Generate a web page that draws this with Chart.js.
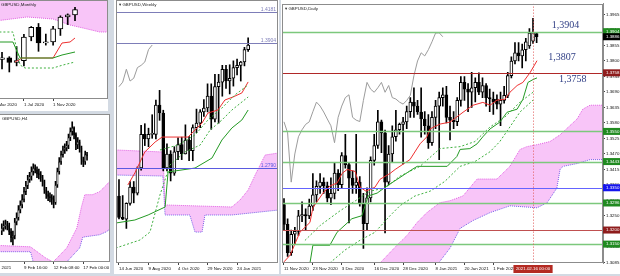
<!DOCTYPE html>
<html><head><meta charset="utf-8">
<script src="https://cdn.jsdelivr.net/npm/chart.js@4.4.1/dist/chart.umd.min.js"></script>
<style>
html,body{margin:0;padding:0;width:620px;height:276px;overflow:hidden;background:#d3dae3;}
body{position:relative;}
.p{position:absolute;}
canvas{display:block;}
</style></head><body>
<div class="p" style="left:-12px;top:0"><canvas id="cM" width="120" height="111"></canvas></div>
<div class="p" style="left:-12px;top:114px"><canvas id="cH" width="122" height="159"></canvas></div>
<div class="p" style="left:114px;top:0"><canvas id="cW" width="165" height="274"></canvas></div>
<div class="p" style="left:281px;top:0"><canvas id="cD" width="360" height="274"></canvas></div>
<script>
// ---------------- DATA ----------------
// Daily GBPUSD (11 Nov 2020 .. 17 Feb 2021)
const dailyOpen  = [1.3290,1.3220,1.3120,1.3185,1.3195,1.3250,1.3255,1.3250,1.3285,1.3325,1.3355,1.3370,1.3357,1.3313,1.3330,1.3402,1.3361,1.3464,1.3432,1.3384,1.3358,1.3370,1.3293,1.3223,1.3314,1.3447,1.3500,1.3584,1.3545,1.3370,1.3470,1.3531,1.3556,1.3575,1.3584,1.3620,1.3654,1.3640,1.3619,1.3594,1.3570,1.3510,1.3600,1.3640,1.3670,1.3680,1.3600,1.3590,1.3585,1.3660,1.3724,1.3700,1.3689,1.3705,1.3724,1.3689,1.3713,1.3670,1.3665,1.3665,1.3647,1.3660,1.3678,1.3748,1.3800,1.3829,1.3818,1.3840,1.3853,1.3870,1.3897];
const dailyHigh  = [1.3312,1.3240,1.3200,1.3210,1.3270,1.3300,1.3275,1.3310,1.3400,1.3375,1.3400,1.3385,1.3370,1.3385,1.3440,1.3415,1.3475,1.3540,1.3440,1.3410,1.3540,1.3390,1.3330,1.3350,1.3460,1.3540,1.3625,1.3590,1.3555,1.3500,1.3570,1.3625,1.3580,1.3600,1.3640,1.3670,1.3705,1.3660,1.3705,1.3620,1.3610,1.3620,1.3660,1.3690,1.3705,1.3710,1.3640,1.3620,1.3670,1.3745,1.3745,1.3720,1.3760,1.3740,1.3758,1.3740,1.3720,1.3700,1.3690,1.3680,1.3690,1.3710,1.3760,1.3815,1.3865,1.3865,1.3860,1.3880,1.3915,1.3951,1.3902];
const dailyLow   = [1.3200,1.3106,1.3110,1.3150,1.3180,1.3230,1.3200,1.3240,1.3270,1.3300,1.3330,1.3330,1.3300,1.3290,1.3310,1.3340,1.3350,1.3420,1.3225,1.3330,1.3330,1.3285,1.3135,1.3200,1.3300,1.3430,1.3490,1.3475,1.3190,1.3360,1.3440,1.3515,1.3540,1.3435,1.3560,1.3600,1.3600,1.3610,1.3530,1.3540,1.3490,1.3500,1.3560,1.3450,1.3640,1.3580,1.3520,1.3560,1.3570,1.3640,1.3660,1.3620,1.3635,1.3655,1.3680,1.3670,1.3640,1.3620,1.3610,1.3630,1.3570,1.3650,1.3670,1.3740,1.3790,1.3800,1.3775,1.3800,1.3845,1.3862,1.3865];
const dailyClose = [1.3220,1.3120,1.3185,1.3195,1.3250,1.3255,1.3250,1.3285,1.3325,1.3355,1.3370,1.3357,1.3313,1.3330,1.3402,1.3361,1.3464,1.3432,1.3384,1.3358,1.3370,1.3293,1.3223,1.3314,1.3447,1.3500,1.3584,1.3545,1.3370,1.3470,1.3531,1.3556,1.3575,1.3584,1.3620,1.3654,1.3640,1.3619,1.3594,1.3570,1.3510,1.3600,1.3640,1.3670,1.3680,1.3600,1.3590,1.3585,1.3660,1.3724,1.3700,1.3689,1.3705,1.3724,1.3689,1.3713,1.3670,1.3665,1.3654,1.3647,1.3660,1.3678,1.3748,1.3800,1.3829,1.3818,1.3840,1.3868,1.3899,1.3900,1.3886];
const dailyTickIdx = [0,8,16,25,33,42,50,58];
const dailyTickLabels = ["11 Nov 2020","23 Nov 2020","3 Dec 2020","16 Dec 2020","28 Dec 2020","8 Jan 2021","20 Jan 2021","1 Feb 2021"];
const dailyPriceTicks = [1.3965,1.3910,1.3855,1.3800,1.3745,1.3690,1.3635,1.3580,1.3525,1.3470,1.3415,1.3360,1.3305,1.3250,1.3195,1.3140,1.3085];
const dailyTenkan = [[0,1.3087],[1.7,1.3111],[4.4,1.3192],[7.2,1.3227],[8.0,1.3279],[10.8,1.3331],[12.7,1.3356],[14.7,1.3367],[16.1,1.3401],[17.5,1.3415],[19.7,1.3408],[21.1,1.3352],[22.7,1.3338],[25.2,1.3352],[26.6,1.3380],[29.4,1.3401],[30.8,1.3415],[34.9,1.3450],[37.7,1.3506],[39.6,1.3531],[40.5,1.3559],[43.2,1.3576],[46.0,1.3583],[49.6,1.3618],[52.4,1.3643],[55.1,1.3653],[57.1,1.3643],[59.0,1.3661],[61.2,1.3664],[62.6,1.3689],[64.6,1.3713],[66.2,1.3724],[68.2,1.3759],[70.1,1.3801]];
const dailyKijun = [[-0.6,1.3083],[7.2,1.3083],[8.0,1.3146],[12.7,1.3146],[14.7,1.3192],[18.8,1.3240],[21.6,1.3251],[23.3,1.3321],[25.8,1.3331],[28.5,1.3356],[35.5,1.3415],[36.9,1.3426],[45.2,1.3426],[47.9,1.3461],[48.8,1.3486],[51.5,1.3489],[53.5,1.3506],[55.1,1.3531],[57.1,1.3559],[59.8,1.3583],[61.8,1.3618],[64.6,1.3629],[66.2,1.3664],[67.6,1.3724],[69.0,1.3734],[70.1,1.3740]];
const dailyDashA = [[12.7,1.3083],[16.9,1.3129],[21.1,1.3164],[25.2,1.3192],[29.4,1.3251],[32.1,1.3286],[36.3,1.3321],[40.5,1.3338],[44.6,1.3373],[48.8,1.3426],[52.9,1.3443],[57.1,1.3478],[59.8,1.3514],[62.6,1.3566],[65.4,1.3619],[69.0,1.3661]];
const dailyDashB = [[5.8,1.3163],[10.0,1.3216],[15.5,1.3268],[19.7,1.3303],[23.8,1.3338],[28.0,1.3349],[32.1,1.3391],[37.7,1.3426],[43.2,1.3489],[48.8,1.3496],[52.9,1.3514],[57.1,1.3566],[61.2,1.3601],[65.4,1.3654],[69.0,1.3689]];
const dailyCloudUp = [[26.6,1.3083],[31.3,1.3146],[34.1,1.3181],[36.9,1.3227],[39.6,1.3262],[43.2,1.3297],[46.0,1.3304],[49.6,1.3321],[53.5,1.3381],[59.0,1.3381],[62.6,1.3426],[65.4,1.3486],[67.3,1.3496],[70.1,1.3503],[73.7,1.3514],[76.5,1.3538],[81.2,1.3594],[82.8,1.3629],[84.8,1.3643],[88.6,1.3643]];
const dailyCloudLo = [[26.6,1.3000],[40.0,1.3000],[42.4,1.3076],[46.0,1.3136],[48.8,1.3206],[52.4,1.3234],[57.1,1.3262],[62.6,1.3286],[70.1,1.3279],[72.9,1.3297],[75.6,1.3349],[76.5,1.3416],[77.3,1.3426],[81.2,1.3436],[84.8,1.3450],[88.6,1.3450]];
const dailyLevels = [1.3904,1.3758,1.3550,1.3443,1.3350,1.3296,1.3200,1.3150];
const dailyCurrent = 1.3886;
const dailyNotes = [1.3904,1.3807,1.3758];
const dailyMarkIdx = 69;
const dailyMarkLabel = "2021.02.16 00:00";

// Weekly GBPUSD (14 Jun 2020 .. 14 Feb 2021)
const weeklyOpen  = [1.2540,1.2350,1.2335,1.2475,1.2620,1.2565,1.2790,1.3090,1.3050,1.3090,1.3090,1.3350,1.3280,1.2790,1.2915,1.2745,1.2935,1.3000,1.2915,1.3040,1.2945,1.3150,1.3190,1.3290,1.3325,1.3430,1.3225,1.3515,1.3555,1.3670,1.3565,1.3590,1.3685,1.3705,1.3735,1.3845];
const weeklyHigh  = [1.2688,1.2545,1.2480,1.2670,1.2670,1.2800,1.3170,1.3185,1.3145,1.3265,1.3395,1.3482,1.3305,1.3005,1.2945,1.2980,1.3060,1.3065,1.3175,1.3070,1.3175,1.3315,1.3310,1.3400,1.3540,1.3540,1.3625,1.3625,1.3705,1.3705,1.3710,1.3745,1.3760,1.3740,1.3865,1.3951];
const weeklyLow   = [1.2337,1.2330,1.2252,1.2460,1.2480,1.2550,1.2770,1.2990,1.2980,1.3055,1.3050,1.3215,1.2765,1.2765,1.2675,1.2725,1.2865,1.2865,1.2915,1.2855,1.2855,1.3105,1.3150,1.3250,1.3290,1.3135,1.3200,1.3190,1.3430,1.3500,1.3450,1.3520,1.3620,1.3565,1.3700,1.3830];
const weeklyClose = [1.2350,1.2335,1.2475,1.2620,1.2565,1.2790,1.3090,1.3050,1.3090,1.3090,1.3350,1.3280,1.2790,1.2915,1.2745,1.2935,1.3000,1.2915,1.3040,1.2945,1.3150,1.3190,1.3290,1.3325,1.3430,1.3225,1.3515,1.3555,1.3670,1.3565,1.3590,1.3685,1.3705,1.3735,1.3845,1.3886];
const weeklyTickIdx = [0,8,16,24,32];
const weeklyTickLabels = ["14 Jun 2020","9 Aug 2020","4 Oct 2020","29 Nov 2020","24 Jan 2021"];
const weeklyTenkan = [[2.4,1.2639],[4.3,1.2746],[7.0,1.2933],[9.8,1.3022],[11.7,1.3066],[18.7,1.3066],[20.6,1.3129],[22.5,1.3191],[24.1,1.3280],[26.8,1.3307],[28.7,1.3396],[30.9,1.3423],[33.3,1.3459],[35.0,1.3557]];
const weeklyKijun = [[-0.9,1.2300],[4.3,1.2327],[7.9,1.2372],[12.5,1.2443],[13.3,1.2755],[20.6,1.2790],[25.2,1.2879],[27.9,1.3040],[30.6,1.3147],[33.3,1.3218],[35.0,1.3307]];
const weeklyDashA = [[-0.9,1.2077],[5.7,1.2149],[8.4,1.2220],[11.1,1.2550],[13.8,1.2817],[17.9,1.2933],[22.0,1.2995],[24.7,1.3129],[27.9,1.3218],[30.6,1.3307],[35.0,1.3423]];
const weeklyDashB = [[11.1,1.2951],[16.0,1.2995],[20.6,1.3084],[24.1,1.3218],[27.9,1.3325],[31.4,1.3441],[35.0,1.3530]];
const weeklyCloudUp = [[-0.9,1.2951],[11.9,1.2933],[12.5,1.2461],[30.6,1.2443],[32.8,1.2505],[35.0,1.2594],[36.9,1.2728],[39.6,1.2906],[43.2,1.2924]];
const weeklyCloudLo = [[-0.9,1.2728],[11.9,1.2719],[12.5,1.2372],[19.2,1.2372],[20.6,1.2220],[22.5,1.2220],[23.3,1.2372],[30.6,1.2372],[43.2,1.2416]];
const weeklyLevels = [1.4181,1.3904,1.2790];

// Monthly GBPUSD (Apr 2020 .. Feb 2021)
const monthlyOpen  = [1.2440,1.2485,1.2350,1.2405,1.3090,1.3370,1.2920,1.2945,1.3325,1.3670,1.3730];
const monthlyHigh  = [1.2647,1.2519,1.2813,1.3170,1.3395,1.3482,1.3175,1.3400,1.3705,1.3760,1.3951];
const monthlyLow   = [1.2165,1.2076,1.2252,1.2251,1.2980,1.2675,1.2855,1.2855,1.3135,1.3450,1.3565];
const monthlyClose = [1.2485,1.2350,1.2405,1.3090,1.3370,1.2920,1.2945,1.3325,1.3670,1.3730,1.3886];
const monthlyTickIdx = [-1,3,7];
const monthlyTickLabels = ["1 Mar 2020","1 Jul 2020","1 Nov 2020"];
const monthlyTenkan = [[1.78,1.2365],[2.74,1.2481],[6.99,1.2481],[8.22,1.2916],[9.32,1.2945],[10.0,1.3061]];
const monthlyKijun = [[-2,1.2945],[1.5,1.2945],[2.47,1.2481],[6.99,1.2481],[8.22,1.2568],[10.0,1.2655]];
const monthlyDash = [[-2,1.3235],[1.5,1.3235],[2.47,1.2278],[3.15,1.2191],[6.99,1.2191],[8.36,1.2278],[10.0,1.2365]];
const monthlyCloudEdge = [[-2,1.3525],[3.42,1.3670],[6.99,1.3612],[9.32,1.3438],[11.1,1.3351],[13.4,1.3235],[14.6,1.3235]];
const monthlyCloudTop = [[-2,1.4300],[14.6,1.4300]];

// H4 GBPUSD (5 Feb 16:00 .. 17 Feb 08:00)
const h4Open  = [1.3778,1.3783,1.3787,1.3788,1.3787,1.3777,1.3767,1.3770,1.3793,1.3800,1.3813,1.3821,1.3830,1.3843,1.3853,1.3863,1.3868,1.3876,1.3882,1.3879,1.3872,1.3871,1.3866,1.3859,1.3846,1.3838,1.3835,1.3833,1.3830,1.3825,1.3854,1.3876,1.3892,1.3904,1.3912,1.3915,1.3919,1.3932,1.3942,1.3948,1.3937,1.3920,1.3925,1.3915,1.3896,1.3892,1.3904];
const h4High  = [1.3790,1.3795,1.3796,1.3794,1.3791,1.3782,1.3778,1.3799,1.3808,1.3820,1.3828,1.3838,1.3850,1.3860,1.3870,1.3875,1.3884,1.3889,1.3887,1.3884,1.3880,1.3876,1.3870,1.3862,1.3850,1.3844,1.3841,1.3838,1.3836,1.3860,1.3882,1.3899,1.3910,1.3918,1.3922,1.3926,1.3938,1.3948,1.3958,1.3950,1.3940,1.3932,1.3928,1.3918,1.3900,1.3910,1.3908];
const h4Low   = [1.3772,1.3778,1.3781,1.3780,1.3772,1.3760,1.3755,1.3765,1.3788,1.3796,1.3808,1.3816,1.3826,1.3838,1.3848,1.3858,1.3862,1.3870,1.3874,1.3866,1.3864,1.3860,1.3852,1.3840,1.3832,1.3828,1.3826,1.3822,1.3816,1.3822,1.3850,1.3872,1.3888,1.3900,1.3906,1.3910,1.3914,1.3927,1.3936,1.3930,1.3912,1.3914,1.3908,1.3888,1.3884,1.3888,1.3895];
const h4Close = [1.3783,1.3787,1.3788,1.3787,1.3777,1.3767,1.3770,1.3793,1.3800,1.3813,1.3821,1.3830,1.3843,1.3853,1.3863,1.3868,1.3876,1.3882,1.3879,1.3872,1.3871,1.3866,1.3859,1.3846,1.3838,1.3835,1.3833,1.3830,1.3825,1.3854,1.3876,1.3892,1.3904,1.3912,1.3915,1.3919,1.3932,1.3942,1.3948,1.3937,1.3920,1.3925,1.3915,1.3896,1.3892,1.3904,1.3902];
const h4TickIdx = [-6.9,12,28,44];
const h4TickLabels = ["5 Feb 2021","9 Feb 16:00","12 Feb 08:00","17 Feb 00:00"];
const h4CloudUp = [[-7,1.3755],[15.5,1.3752],[23.5,1.3734],[27.7,1.3727],[35,1.3750],[40.5,1.3783],[43,1.3818],[44.8,1.3838],[49,1.3838],[52.8,1.3843],[56.5,1.3854],[59,1.3863]];
const h4CloudLo = [[-7,1.3744],[15.5,1.3744],[17,1.3727],[27.7,1.3721],[35,1.3727],[42,1.3750],[43.7,1.3768],[52.8,1.3772],[56.5,1.3777],[59,1.3783]];

// ---------------- STYLE / HELPERS ----------------
const FONT = "'Liberation Sans', 'DejaVu Sans', Arial, sans-serif";
const SMALL = 4.4;
const RED = '#ee3030', GREEN = '#249a24', DGREEN = '#3fb03f', GRAY = '#9c9c9c';
const CLOUD = 'rgba(234,84,234,0.34)';

function candles(o,h,l,c,w){
  const ix = o.map((_,i)=>i);
  return [
    {type:'bar', data: ix.map(i=>({x:i, y:[l[i],h[i]]})), backgroundColor:'#000', borderWidth:0, barThickness:1, grouped:false, minBarLength:1, order:5},
    {type:'bar', data: ix.map(i=>({x:i, y:[o[i],c[i]]})), backgroundColor: ix.map(i=> c[i]>=o[i] ? '#fff' : '#000'), borderColor:'#000', borderWidth:1, borderSkipped:false, barThickness:w, grouped:false, minBarLength:1, order:4}
  ];
}
function ln(pts,color,extra){
  return Object.assign({type:'line', data: pts.map(p=>({x:p[0], y:p[1]})), borderColor:color, backgroundColor:'rgba(0,0,0,0)', borderWidth:1, pointRadius:0, tension:0, fill:false, order:1}, extra||{});
}
function cloud(up,lo){
  return [
    ln(lo,'#6262e6',{borderDash:[1,1], order:9}),
    ln(up,'#e25ee2',{borderDash:[1,1], fill:'-1', backgroundColor:CLOUD, order:8})
  ];
}
function xScale(idx, labels, min, max, h){
  return {type:'linear', min, max, offset:false, bounds:'data',
    grid:{display:true, drawOnChartArea:false, tickLength:2, color:'#444', offset:false},
    border:{display:false},
    ticks:{autoSkip:false, maxRotation:0, minRotation:0, align:'start', padding:1, color:'#111', font:{family:FONT, size:SMALL}, callback:(v,i)=>labels[i]},
    afterBuildTicks:s=>{ s.ticks = idx.map(v=>({value:v})); },
    afterFit:s=>{ s.height = h; }
  };
}
function yHidden(min,max){ return {type:'linear', display:false, min, max, bounds:'data'}; }

function build(id, datasets, cfg){
  const cv = document.getElementById(id);
  const ov = {
    id:'ov_'+id,
    beforeDraw(ch){ const g=ch.ctx; g.save(); g.fillStyle='#fff'; g.fillRect(0,0,ch.width,ch.height); g.restore(); },
    afterDatasetsDraw(ch){
      const g=ch.ctx, a=ch.chartArea, xs=ch.scales.x, ys=ch.scales.y;
      g.save(); g.beginPath(); g.rect(a.left,a.top,a.right-a.left,a.bottom-a.top); g.clip();
      (cfg.levels||[]).forEach((v,i)=>{
        const st = cfg.levelStyles[i];
        const py = Math.round(ys.getPixelForValue(v))+0.5;
        g.strokeStyle = st.color; g.lineWidth = st.w; g.setLineDash([]);
        g.beginPath(); g.moveTo(a.left,py); g.lineTo(a.right,py); g.stroke();
        if (cfg.levelText){
          g.fillStyle = st.color; g.font = '5px '+FONT; g.textAlign='right'; g.textBaseline='bottom';
          g.fillText(v.toFixed(4), a.right-2, py-0.5);
        }
      });
      if (cfg.vline!=null){
        const px = Math.round(xs.getPixelForValue(cfg.vline))+0.5;
        g.strokeStyle='#e05858'; g.lineWidth=1; g.setLineDash([1,2]);
        g.beginPath(); g.moveTo(px,a.top); g.lineTo(px,a.bottom); g.stroke(); g.setLineDash([]);
      }
      (cfg.notes||[]).forEach((v,i)=>{
        const pos = cfg.notePos[i];
        g.fillStyle='#2e3d84'; g.font = "10px 'Liberation Serif', 'DejaVu Serif', serif";
        g.textAlign='left'; g.textBaseline='middle';
        g.fillText(v.toFixed(4).replace('.',','), xs.getPixelForValue(pos[0]), ys.getPixelForValue(pos[1]));
      });
      g.restore();
    },
    afterDraw(ch){
      const g=ch.ctx, a=ch.chartArea, xs=ch.scales.x, ys=ch.scales.y;
      g.save();
      g.strokeStyle='#8c8c8c'; g.lineWidth=1;
      g.strokeRect(Math.round(a.left)+0.5, Math.round(a.top)+0.5, Math.round(a.right-a.left)-1, Math.round(a.bottom-a.top)-1);
      g.fillStyle='#222'; g.font = SMALL+'px '+FONT; g.textAlign='left'; g.textBaseline='middle';
      g.fillText(cfg.title, a.left+cfg.titleX, a.top+5);
      (cfg.boxes||[]).forEach(b=>{
        const py = ys.getPixelForValue(b.v);
        g.fillStyle=b.color; g.fillRect(a.right, py-3.5, ch.width-a.right, 7);
        g.fillStyle='#fff'; g.textBaseline='middle'; g.textAlign='left';
        g.fillText(b.v.toFixed(4), a.right+3, py);
      });
      if (cfg.timeLabel){
        const px = xs.getPixelForValue(cfg.vline);
        const w = g.measureText(cfg.timeLabel).width + 5;
        g.fillStyle='#b42a22'; g.fillRect(px-w/2, a.bottom+2, w, 8);
        g.fillStyle='#fff'; g.textAlign='center'; g.textBaseline='middle';
        g.fillText(cfg.timeLabel, px, a.bottom+6);
      }
      g.restore();
    }
  };
  return new Chart(cv, {
    type:'bar',
    data:{datasets},
    options:{responsive:false, animation:false, events:[], devicePixelRatio:1,
      layout:{padding:cfg.pad},
      plugins:{legend:{display:false}, tooltip:{enabled:false}},
      scales:{x:cfg.x, y:cfg.y}},
    plugins:[ov]
  });
}

// ---------------- MONTHLY ----------------
build('cM', [
  ln(monthlyCloudTop,'rgba(0,0,0,0)',{order:9}),
  ln(monthlyCloudEdge,'#e25ee2',{borderDash:[1,1], fill:'-1', backgroundColor:CLOUD, order:8}),
  ...candles(monthlyOpen,monthlyHigh,monthlyLow,monthlyClose,5),
  ln(monthlyDash, DGREEN, {borderDash:[2,2]}),
  ln(monthlyKijun, GREEN),
  ln(monthlyTenkan, RED)
], {pad:{left:0,right:0,top:0,bottom:0}, title:'GBPUSD,Monthly', titleX:13,
    x:xScale(monthlyTickIdx, monthlyTickLabels, -1.92, 14.52, 12), y:yHidden(1.1292,1.4163)});

// ---------------- H4 ----------------
build('cH', [
  ...cloud(h4CloudUp,h4CloudLo),
  ...candles(h4Open,h4High,h4Low,h4Close,1)
], {pad:{left:0,right:0,top:0,bottom:0}, title:'GBPUSD,H4', titleX:13,
    x:xScale(h4TickIdx, h4TickLabels, -6.93, 58.13, 11), y:yHidden(1.3727,1.3971)});

// ---------------- WEEKLY ----------------
build('cW', [
  ...cloud(weeklyCloudUp,weeklyCloudLo),
  ...candles(weeklyOpen,weeklyHigh,weeklyLow,weeklyClose,3),
  ln(weeklyClose.slice(26).map((v,i)=>[i, v]), GRAY),
  ln(weeklyDashA, DGREEN, {borderDash:[2,2]}),
  ln(weeklyDashB, DGREEN, {borderDash:[2,2]}),
  ln(weeklyKijun, GREEN),
  ln(weeklyTenkan, RED)
], {pad:{left:2,right:1,top:0,bottom:0}, title:'\u25BE GBPUSD,Weekly', titleX:3,
    levels:weeklyLevels, levelText:true,
    levelStyles:[{color:'#7d7db8',w:1},{color:'#7d7db8',w:1},{color:'#5a5ae0',w:1}],
    x:xScale(weeklyTickIdx, weeklyTickLabels, -0.81, 43.09, 11), y:yHidden(1.1944,1.4287)});

// ---------------- DAILY ----------------
const dailyLevelStyles = [
  {color:'#7cc87c',w:1.5},{color:'#b02828',w:1.2},{color:'#7cc87c',w:1.5},{color:'#7cc87c',w:1.5},
  {color:'#6464ff',w:1.2},{color:'#7cc87c',w:1.5},{color:'#c05050',w:1.2},{color:'#7cc87c',w:1.5}];
const dailyBoxColors = ['#208a20','#8e1c1c','#208a20','#208a20','#1515ee','#208a20','#8e1c1c','#208a20'];
build('cD', [
  ...cloud(dailyCloudUp,dailyCloudLo),
  ...candles(dailyOpen,dailyHigh,dailyLow,dailyClose,3),
  ln(dailyClose.slice(26).map((v,i)=>[i, v]), GRAY),
  ln(dailyDashA, DGREEN, {borderDash:[2,2]}),
  ln(dailyDashB, DGREEN, {borderDash:[2,2]}),
  ln(dailyKijun, GREEN),
  ln(dailyTenkan, RED)
], {pad:{left:1,right:0,top:0,bottom:0}, title:'\u25BE GBPUSD,Daily', titleX:3,
    levels:dailyLevels, levelStyles:dailyLevelStyles,
    vline:dailyMarkIdx, timeLabel:dailyMarkLabel,
    notes:dailyNotes, notePos:[[74.2,1.3927],[73.2,1.3812],[76.2,1.3735]],
    boxes: dailyLevels.map((v,i)=>({v, color:dailyBoxColors[i]})).concat([{v:dailyCurrent, color:'#000'}]),
    x:xScale(dailyTickIdx, dailyTickLabels, -0.554, 88.39, 11),
    y:{type:'linear', position:'right', min:1.3083, max:1.40035, bounds:'data',
       grid:{display:true, drawOnChartArea:false, tickLength:2, color:'#444'},
       border:{display:true, color:'#8c8c8c'},
       ticks:{padding:1, color:'#111', font:{family:FONT, size:SMALL}, callback:v=>Number(v).toFixed(4)},
       afterBuildTicks:s=>{ s.ticks = dailyPriceTicks.map(v=>({value:v})); },
       afterFit:s=>{ s.width = 38; }}});
</script>
</body></html>
